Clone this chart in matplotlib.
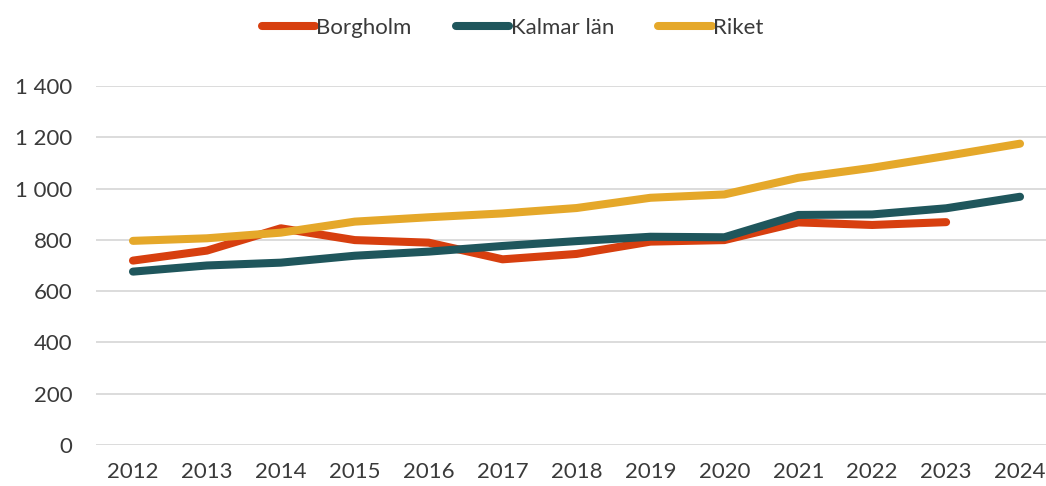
import matplotlib.pyplot as plt
from matplotlib.ticker import FuncFormatter

plt.rcParams['font.family'] = ['Lato', 'DejaVu Sans']

years = [2012, 2013, 2014, 2015, 2016, 2017, 2018, 2019, 2020, 2021, 2022, 2023, 2024]
borgholm = [719, 758, 845, 799, 789, 724, 745, 793, 799, 868, 858, 869]
kalmar = [676, 700, 711, 738, 754, 776, 795, 812, 810, 897, 899, 923, 968]
riket = [796, 806, 828, 871, 888, 903, 924, 964, 977, 1042, 1081, 1127, 1175]

col_b = '#D73F0F'
col_k = '#1F565C'
col_r = '#E5A82A'
txt = '#3A3A3A'

fig = plt.figure(figsize=(10.46, 4.86), dpi=100)
ax = fig.add_axes([0.0918, 0.0844, 0.9187, 0.7387])

lw = 5.8
ax.plot(years[:len(borgholm)], borgholm, color=col_b, lw=lw, solid_capstyle='round', label='Borgholm', zorder=3)
ax.plot(years, kalmar, color=col_k, lw=lw, solid_capstyle='round', label='Kalmar län', zorder=3)
ax.plot(years, riket, color=col_r, lw=lw, solid_capstyle='round', label='Riket', zorder=3)

ax.set_xlim(2011.5, 2024.5)
ax.set_ylim(0, 1400)
ax.set_yticks(range(0, 1401, 200))
ax.set_xticks(years)
ax.yaxis.set_major_formatter(FuncFormatter(lambda v, p: f'{int(v):,}'.replace(',', ' ')))
ax.grid(axis='y', color='#D9D9D9', lw=1.3)
ax.set_axisbelow(True)
for s in ax.spines.values():
    s.set_visible(False)
ax.tick_params(length=0, labelsize=16, labelcolor=txt)
ax.tick_params(axis='y', pad=17)
ax.tick_params(axis='x', pad=12)

leg = fig.legend(loc='center', bbox_to_anchor=(0.49, 0.943), ncol=3, frameon=False,
                 fontsize=16, handlelength=2.4, handletextpad=0.05, columnspacing=2.0)
for t in leg.get_texts():
    t.set_color(txt)

fig.savefig('out.png', dpi=100)
